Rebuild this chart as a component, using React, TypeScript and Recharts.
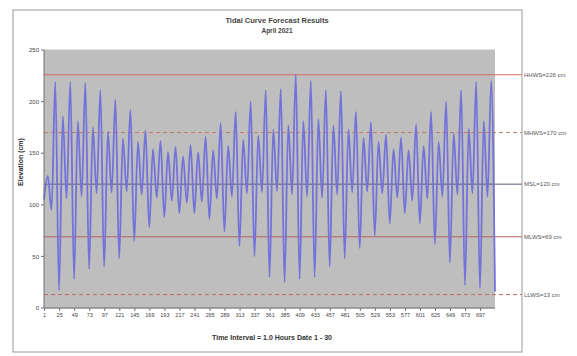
import { LineChart, Line, XAxis, YAxis, ReferenceLine, CartesianGrid } from "recharts";

// x ticks are hour numbers, one per day
const hourTicks = [1, 25, 49, 73, 97, 121, 145, 169, 193, 217, 241, 265, 289, 313, 337, 361, 385, 409, 433, 457, 481, 505, 529, 553, 577, 601, 625, 649, 673, 697];
const elevationTicks = [0, 50, 100, 150, 200, 250];

// tide turning points, read per day (cm)
const lowLow = [105, 17, 28, 38, 40, 48, 65, 78, 88, 92, 92, 86, 74, 60, 50, 30, 25, 28, 30, 40, 48, 58, 70, 82, 92, 82, 62, 44, 22, 19, 16];
const lowHigh = [128, 186, 181, 175, 171, 164, 161, 154, 151, 147, 151, 153, 157, 163, 167, 173, 177, 181, 183, 177, 173, 165, 161, 154, 153, 157, 161, 169, 174, 181];
const highLow = [95, 106, 108, 111, 112, 113, 110, 107, 104, 102, 103, 106, 108, 111, 112, 113, 110, 108, 107, 110, 112, 113, 111, 107, 104, 106, 108, 110, 111, 108];
const highHigh = [219, 219, 218, 211, 202, 192, 172, 162, 156, 158, 166, 179, 190, 200, 211, 212, 226, 220, 211, 210, 190, 180, 168, 165, 178, 190, 200, 211, 219, 220];

const levelNames = ["HHWS", "MHWS", "MSL", "MLWS", "LLWS"];
const levelValues = [226, 170, 120, 69, 13];

const levelStyles = [
  { stroke: "#d46a6a", dash: undefined },
  { stroke: "#c87a6a", dash: "4 3" },
  { stroke: "#5a5a78", dash: undefined },
  { stroke: "#b86060", dash: undefined },
  { stroke: "#c06a6a", dash: "4 3" },
];

const tideData: { t: number; elev: number }[] = [];
for (let d = 0; d < highHigh.length; d++) {
  tideData.push({ t: 24 * d, elev: lowLow[d] });
  tideData.push({ t: 24 * d + 6, elev: lowHigh[d] });
  tideData.push({ t: 24 * d + 12, elev: highLow[d] });
  tideData.push({ t: 24 * d + 18, elev: highHigh[d] });
}
tideData.push({ t: 720, elev: lowLow[lowLow.length - 1] });

const font = "'Liberation Sans', Arial, sans-serif";

function LevelLine(props: any) {
  const { x1, y1, x2, y2, stroke, dash, text } = props;
  return (
    <g>
      <line x1={x1} y1={y1} x2={x2 + 27} y2={y2} stroke={stroke} strokeWidth={1} strokeDasharray={dash} />
      <text x={x2 + 29} y={y2 + 2} fontSize={6} fill="#555" fontFamily={font}>
        {text}
      </text>
    </g>
  );
}

export default function App() {
  return (
    <div style={{ position: "fixed", left: 0, top: 0, width: 577, height: 356, background: "#fff" }}>
      <svg width={577} height={356} style={{ position: "absolute", left: 0, top: 0 }}>
        <rect x={13} y={10} width={509} height={342} fill="none" stroke="#9a9a9a" strokeWidth={1} />
        <text x={277} y={23} textAnchor="middle" fontSize={7.5} fontWeight="bold" fill="#444" fontFamily={font}>
          Tidal Curve Forecast Results
        </text>
        <text x={277} y={33} textAnchor="middle" fontSize={6.5} fontWeight="bold" fill="#444" fontFamily={font}>
          April 2021
        </text>
        <text
          x={23}
          y={162}
          transform="rotate(-90 23 162)"
          textAnchor="middle"
          fontSize={7}
          fontWeight="bold"
          fill="#333"
          fontFamily={font}
        >
          Elevation (cm)
        </text>
        <text x={272} y={340} textAnchor="middle" fontSize={7} fontWeight="bold" fill="#333" fontFamily={font}>
          Time Interval = 1.0 Hours Date 1 - 30
        </text>
      </svg>
      <div style={{ position: "absolute", left: 0, top: 0 }}>
        <LineChart width={577} height={356} data={tideData} margin={{ top: 50, right: 82, left: 14, bottom: 28 }}>
          <CartesianGrid fill="#bebebe" stroke="#bebebe" vertical={false} />
          <XAxis
            type="number"
            dataKey="t"
            domain={[0, 720]}
            ticks={hourTicks}
            interval={0}
            height={20}
            tick={{ fontSize: 5.5, fill: "#444", fontFamily: font }}
            tickSize={3}
            axisLine={{ stroke: "#707070" }}
            tickLine={{ stroke: "#707070" }}
          />
          <YAxis
            domain={[0, 250]}
            ticks={elevationTicks}
            width={30}
            tick={{ fontSize: 6, fill: "#444", fontFamily: font }}
            tickSize={3}
            axisLine={{ stroke: "#707070" }}
            tickLine={{ stroke: "#707070" }}
          />
          {levelValues.map((v, i) => (
            <ReferenceLine
              key={levelNames[i]}
              y={v}
              ifOverflow="visible"
              shape={(p: any) => (
                <LevelLine {...p} stroke={levelStyles[i].stroke} dash={levelStyles[i].dash} text={`${levelNames[i]}=${v} cm`} />
              )}
            />
          ))}
          <Line
            type="monotone"
            dataKey="elev"
            stroke="#7272da"
            strokeWidth={1.8}
            dot={false}
            isAnimationActive={false}
          />
        </LineChart>
      </div>
    </div>
  );
}
